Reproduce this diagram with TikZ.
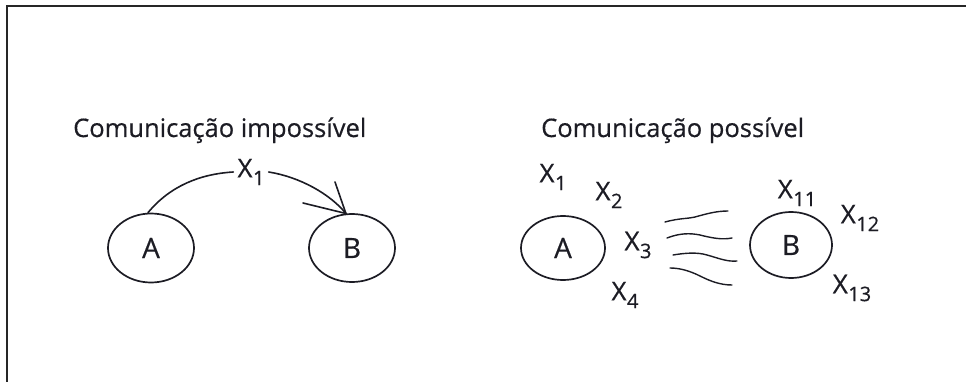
\documentclass[tikz,border=0pt]{standalone}
\usepackage{fontspec}
\setmainfont{Open Sans}[FakeBold=0.5]
\usetikzlibrary{shapes.geometric}
\definecolor{ink}{HTML}{1C1C24}
\newcommand{\lbl}[2]{X\kern0.5pt\raisebox{-0.3em}{\fontsize{20}{20}\selectfont #2}}
\begin{document}
\begin{tikzpicture}[x=1pt,y=-1pt,
  oval/.style={draw=ink,line width=1.7pt,ellipse,minimum width=#1},
  ttl/.style={font=\fontsize{25.5}{30}\selectfont,text=ink,inner sep=0pt,anchor=base west},
  xl/.style={font=\fontsize{26}{30}\selectfont,text=ink,inner sep=0pt},
  let/.style={font=\fontsize{28}{32}\selectfont,text=ink},
  ln/.style={draw=ink,line width=1.6pt,line cap=round},
  wave/.style={draw=ink,line width=1.4pt,line cap=round}]
\useasboundingbox (0,0) rectangle (966,382);
% frame
\coordinate (f1) at (7,382);
\coordinate (f2) at (7,6);
\coordinate (f3) at (966,6);
\draw[draw=black!85,line width=2pt] (f1) -- (f2) -- (f3);
% titles
\node[ttl] (t1) at (73,137) {Comunicação impossível};
\node[ttl] (t2) at (541,137) {Comunicação possível};
% left part
\node[oval=86pt,minimum height=69pt,let] (A) at (151,248) {A};
\node[oval=86pt,minimum height=68pt,let] (B) at (352,248) {B};
\node[xl,inner sep=4pt] (x1) at (251,172) {\lbl{X}{1}};
\draw[ln] (A.95) .. controls (170,186) and (200,174) .. (x1.west);
\draw[ln] (x1.east) .. controls (300,177) and (330,194) .. (B.100);
\coordinate (h1) at (303,203);
\coordinate (h2) at (335,182);
\draw[ln] (h1) -- (B.100) -- (h2);
% right part
\node[oval=84pt,minimum height=64pt,let] (A2) at (563,248) {A};
\node[oval=82pt,minimum height=66pt,let] (B2) at (791,245) {B};
\node[xl] (y1) at (553,177) {\lbl{X}{1}};
\node[xl] (y2) at (609,195) {\lbl{X}{2}};
\node[xl] (y3) at (638,245) {\lbl{X}{3}};
\node[xl] (y4) at (625,295) {\lbl{X}{4}};
\node[xl] (y11) at (797,193) {\lbl{X}{11}};
\node[xl] (y12) at (860,218) {\lbl{X}{12}};
\node[xl] (y13) at (852,288) {\lbl{X}{13}};
% waves
\coordinate (w1a) at (665,222); \coordinate (w1b) at (728,211);
\coordinate (w2a) at (667,238); \coordinate (w2b) at (732,238);
\coordinate (w3a) at (673,255); \coordinate (w3b) at (737,261);
\coordinate (w4a) at (670,268); \coordinate (w4b) at (732,285);
\draw[wave] (w1a) .. controls (680,218) and (686,219) .. (695,217) .. controls (706,214) and (716,211) .. (w1b);
\draw[wave] (w2a) .. controls (680,233) and (690,233) .. (700,235) .. controls (712,238) and (722,240) .. (w2b);
\draw[wave] (w3a) .. controls (685,253) and (697,252) .. (707,255) .. controls (718,258) and (727,262) .. (w3b);
\draw[wave] (w4a) .. controls (680,268) and (690,271) .. (700,276) .. controls (710,281) and (720,285) .. (w4b);
\end{tikzpicture}
\end{document}
